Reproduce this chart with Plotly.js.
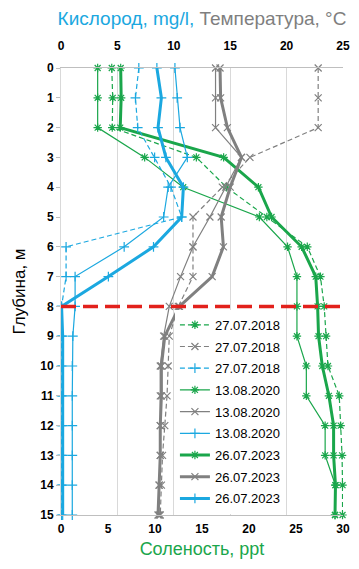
<!DOCTYPE html>
<html>
<head>
<meta charset="utf-8">
<script src="https://cdn.plot.ly/plotly-3.0.1.min.js"></script>
<style>html,body{margin:0;padding:0;background:#fff}#chart{width:359px;height:569px}</style>
</head>
<body>
<div id="chart"></div>
<script>
// Depth, m
const depth = [0,1,2,3,4,5,6,7,8,9,10,11,12,13,14,15];

// Salinity, ppt (bottom axis)
const salinity2018 = [5.4,5.5,5.45,14.4,17.6,21.9,26.2,27.6,28.0,28.2,28.4,29.6,29.75,29.9,29.95,29.95];
const salinity2020 = [3.9,3.9,3.9,8.9,13.0,21.1,24.1,25.1,25.1,25.1,26.1,26.1,28.1,28.1,29.2,29.15];
const salinity2023 = [6.35,6.4,6.3,17.3,21.0,22.4,25.6,27.1,27.3,27.4,27.8,28.5,29.0,29.0,29.2,29.15];

// Temperature, °C (top axis)
const temp2018 = [22.8,22.8,22.8,16.75,14.3,11.7,11.7,11.7,10.4,9.6,9.5,9.4,9.2,9.0,8.9,8.8];
const temp2020 = [13.7,13.7,13.7,16.0,14.6,13.2,11.7,10.6,9.6,9.1,8.8,8.8,8.8,8.8,8.7,8.7];
const temp2023 = [14.1,14.15,14.75,16.0,15.0,14.2,14.4,13.4,10.5,9.2,8.9,8.9,8.8,8.8,8.7,8.6];

// Oxygen, mg/l (top axis)
const oxygen2018 = [6.9,6.6,6.8,8.3,9.75,10.7,0.45,0.45,0.05,0.05,0.05,0.05,0.05,0.05,0.05,0.05];
const oxygen2020 = [10.1,10.3,10.55,11.2,9.5,9.1,5.6,1.25,1.25,1.05,1.0,1.0,1.0,1.0,1.0,1.0];
const oxygen2023 = [8.5,8.9,8.6,9.3,10.85,10.7,8.2,4.2,0.05,0.15,0.15,0.15,0.15,0.15,0.15,0.15];

const dates = ['27.07.2018','13.08.2020','26.07.2023'];
const redLineDepth = 8;

const GREEN = '#1aa64b', GRAY = '#808080', BLUE = '#1ba8e0';

function tr(x, color, axis, style, sym, name, grp) {
  const w = style === 'thick' ? 3 : 1.2;
  return {
    x: x, y: depth, xaxis: axis, yaxis: 'y', name: name, legendgroup: grp,
    mode: 'lines+markers', cliponaxis: false,
    line: {color: color, width: w, dash: style === 'dash' ? '5px,3px' : 'solid'},
    marker: {symbol: sym, size: 7, color: color, line: {color: color, width: 1.2}}
  };
}

const data = [
  tr(salinity2018, GREEN, 'x',  'dash',  'asterisk-open',   dates[0], 'g1'),
  tr(temp2018,     GRAY,  'x2', 'dash',  'x-thin-open',     dates[0], 'g2'),
  tr(oxygen2018,   BLUE,  'x2', 'dash',  'cross-thin-open', dates[0], 'g3'),
  tr(salinity2020, GREEN, 'x',  'thin',  'asterisk-open',   dates[1], 'g4'),
  tr(temp2020,     GRAY,  'x2', 'thin',  'x-thin-open',     dates[1], 'g5'),
  tr(oxygen2020,   BLUE,  'x2', 'thin',  'cross-thin-open', dates[1], 'g6'),
  tr(salinity2023, GREEN, 'x',  'thick', 'asterisk-open',   dates[2], 'g7'),
  tr(temp2023,     GRAY,  'x2', 'thick', 'x-thin-open',     dates[2], 'g8'),
  tr(oxygen2023,   BLUE,  'x2', 'thick', 'cross-thin-open', dates[2], 'g9')
];

const tickFont = {family: 'Liberation Sans, Arial, sans-serif', size: 12, weight: 'bold', color: '#000'};

const layout = {
  width: 359, height: 569,
  margin: {l: 61, r: 16, t: 68, b: 54},
  paper_bgcolor: '#fff', plot_bgcolor: '#fff',
  font: {family: 'Liberation Sans, Arial, sans-serif', color: '#000'},
  title: {
    text: '<span style="color:' + BLUE + '">Кислород, mg/l,</span> <span style="color:#7f7f7f">Температура, °C</span>',
    font: {size: 19, weight: 'normal'}, x: 0.5, xref: 'paper', xanchor: 'center',
    y: 1 - 18/569, yref: 'container', yanchor: 'middle'
  },
  showlegend: true,
  legend: {
    x: 0.404, xanchor: 'left', y: 0.459, yanchor: 'top',
    bgcolor: '#fff', borderwidth: 0,
    font: {size: 13, color: '#000'}, tracegroupgap: 1.8, traceorder: 'grouped'
  },
  xaxis: {
    range: [0, 30], dtick: 5, tick0: 0, side: 'bottom',
    showgrid: false, zeroline: false,
    showline: true, linecolor: '#bfbfbf', linewidth: 1,
    ticks: '', tickfont: tickFont, ticklabelstandoff: 3,
    title: {text: 'Соленость, ppt', font: {size: 18, color: GREEN}, standoff: 6}
  },
  xaxis2: {
    range: [0, 25], dtick: 5, tick0: 0, side: 'top', overlaying: 'x',
    showgrid: true, gridcolor: '#d9d9d9', gridwidth: 1, zeroline: false,
    showline: true, linecolor: '#bfbfbf', linewidth: 1,
    ticks: '', tickfont: tickFont, ticklabelstandoff: 12
  },
  yaxis: {
    range: [15, 0], dtick: 1, tick0: 0,
    showgrid: false, zeroline: false,
    showline: true, linecolor: '#d9d9d9', linewidth: 1,
    ticks: 'outside', ticklen: 4, tickcolor: '#bfbfbf', tickfont: tickFont,
    title: {text: 'Глубина, м', font: {size: 17, color: '#000'}, standoff: 10}
  },
  shapes: [{
    type: 'line', xref: 'paper', x0: 0, x1: 1, yref: 'y', y0: redLineDepth, y1: redLineDepth,
    line: {color: '#e2211c', width: 3.5, dash: '15px,7px'}, layer: 'above'
  }]
};

Plotly.newPlot('chart', data, layout, {displayModeBar: false, responsive: false});
</script>
</body>
</html>
